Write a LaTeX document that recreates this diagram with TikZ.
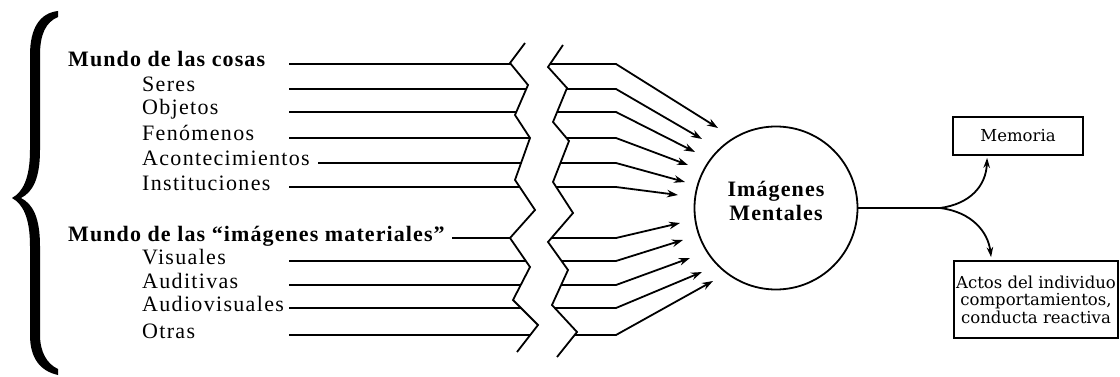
\documentclass[tikz,border=0pt]{standalone}
\usepackage{fontspec}
\setmainfont{Liberation Serif}
\newfontfamily\lblfont[LetterSpace=6]{Liberation Serif}
\newfontfamily\hdfont[LetterSpace=5]{Liberation Serif}
\newfontfamily\boxfont{DejaVu Serif}
\usetikzlibrary{arrows.meta,calc}
\begin{document}
\begin{tikzpicture}[x=1pt,y=-1pt,
  lbl/.style={anchor=base west,inner sep=0pt,font=\lblfont\fontsize{22}{24}\selectfont},
  hd/.style={anchor=base west,inner sep=0pt,font=\hdfont\bfseries\fontsize{22}{24}\selectfont},
  ln/.style={line width=1.8pt},
  arr/.style={ln,-{Stealth[length=11pt,width=7.5pt]}},
  sarr/.style={ln,-{Stealth[length=10pt,width=6.5pt]}},
  zig/.style={line width=1.8pt,line join=miter},
  boxnode/.style={draw,line width=1.8pt,inner sep=0pt,font=\boxfont\fontsize{16.5}{17.5}\selectfont,align=center}]
\useasboundingbox (0,0) rectangle (1120,377);
% brace
\fill (58,11) .. controls (40,13) and (30,28) .. (30,55) -- (30,150)
  .. controls (30,178) and (23,192) .. (12,198)
  .. controls (23,204) and (30,218) .. (30,246) -- (30,335)
  .. controls (30,358) and (40,371) .. (58,375) -- (58,369)
  .. controls (47,364) and (40,352) .. (40,335) -- (40,246)
  .. controls (40,218) and (33,204) .. (21,198)
  .. controls (33,192) and (40,178) .. (40,150) -- (40,55)
  .. controls (40,34) and (46,22) .. (58,17) -- cycle;
% labels
\node[hd]  (r1)  at (68,67)  {Mundo de las cosas};
\node[lbl] (r2)  at (142,92) {Seres};
\node[lbl] (r3)  at (142,115) {Objetos};
\node[lbl] (r4)  at (142,141) {Fenómenos};
\node[lbl] (r5)  at (142,166) {Acontecimientos};
\node[lbl] (r6)  at (142,190) {Instituciones};
\node[hd]  (r7)  at (68,241) {Mundo de las “imágenes materiales”};
\node[lbl] (r8)  at (142,264) {Visuales};
\node[lbl] (r9)  at (142,288) {Auditivas};
\node[lbl] (r10) at (142,311) {Audiovisuales};
\node[lbl] (r11) at (142,338) {Otras};
% zigzag breaks
\draw[zig] (525,43) -- (510,63) -- (528,85) -- (515,115) -- (530,138) -- (515,180) -- (535,210)
  -- (510,238) -- (530,267) -- (513,300) -- (538,325) -- (517,352);
\draw[zig] (563,45) -- (548,67) -- (567,88) -- (553,122) -- (569,141) -- (553,182) -- (573,213)
  -- (548,242) -- (568,270) -- (552,305) -- (577,332) -- (557,357);
% lines and arrows
\foreach \i/\y/\sx/\lx/\rx/\tx/\ty in {
  1/64/289/511/550/718/128,
  2/89/289/527/567/702/139,
  3/112/289/516/557/695/152,
  4/138/289/530/566/688/165,
  5/163/318/521/560/685/182,
  6/187/289/520/556/678/195,
  7/238/452/510/551/680/223,
  8/261/289/526/562/683/240,
  9/285/289/521/561/690/258,
  10/308/289/521/555/702/272,
  11/335/289/530/575/713/281} {
  \coordinate (s\i) at (\sx,\y);
  \coordinate (l\i) at (\lx,\y);
  \coordinate (q\i) at (\rx,\y);
  \coordinate (b\i) at (616,\y);
  \coordinate (t\i) at (\tx,\ty);
  \draw[ln] (s\i) -- (l\i);
  \draw[arr] (q\i) -- (b\i) -- (t\i);
}
% circle
\node[circle,draw,line width=1.8pt,minimum size=163pt,inner sep=0pt] (img) at (776,208) {};
\node[font=\hdfont\bfseries\fontsize{22}{24}\selectfont,align=center,inner sep=0pt] (imgtxt) at (776,201) {Imágenes\\Mentales};
% boxes
\node[boxnode,minimum width=130pt,minimum height=38pt] (mem) at (1018,136) {Memoria};
\node[boxnode,minimum width=164pt,minimum height=77pt] (act) at (1036,299.5) {Actos del individuo\\comportamientos,\\conducta reactiva};
% output connectors
\coordinate (split) at (940,208);
\draw[ln] (img.east) -- (split);
\draw[sarr] (split) .. controls (970,204) and (986,186) .. ($(mem.south west)+(35,2)$);
\draw[sarr] (split) .. controls (972,212) and (988,232) .. ($(act.north west)+(38,-3)$);
\end{tikzpicture}
\end{document}
